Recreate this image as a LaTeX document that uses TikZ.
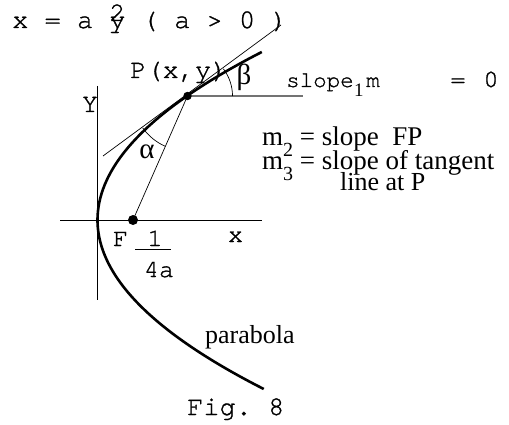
\documentclass[tikz,border=0pt]{standalone}
\usepackage{fontspec}
\setmainfont{Liberation Serif}
\newfontfamily\monofont[FakeBold=1]{texgyrecursor-regular.otf}
\usetikzlibrary{angles}
\begin{document}
\begin{tikzpicture}[x=1pt,y=-1pt,
  mono/.style={font=\monofont\fontsize{27}{27}\selectfont, inner sep=0pt},
  monosm/.style={font=\monofont\fontsize{25}{25}\selectfont, inner sep=0pt},
  monoxs/.style={font=\monofont\fontsize{22.5}{22.5}\selectfont, inner sep=0pt},
  serif/.style={font=\fontsize{26}{26}\selectfont, inner sep=0pt},
  serifm/.style={font=\fontsize{27}{27}\selectfont, inner sep=0pt},
  greek/.style={font=\fontsize{29}{29}\selectfont, inner sep=0pt},
  subsc/.style={font=\fontsize{19}{19}\selectfont, inner sep=0pt},
  axisline/.style={line width=0.9pt, black},
  curveline/.style={line width=2.6pt, black},
  thinline/.style={line width=0.7pt, black},
  horline/.style={line width=1.6pt, black!55},
  dotP/.style={fill=black}]
\fill[white] (0,0) rectangle (509,425);
\useasboundingbox (0,0) rectangle (509,425);
% coordinates
\coordinate (Ytop) at (97.5,86);
\coordinate (Ybot) at (97.5,300);
\coordinate (Xl) at (60,220);
\coordinate (Xr) at (262,220);
\coordinate (P) at (187.5,96);
\coordinate (F) at (133,220);
\coordinate (H) at (303,96);
\coordinate (TL) at (103,156);
\coordinate (TR) at (281,25);
\coordinate (fb1) at (135,249);
\coordinate (fb2) at (171,249);
% axes
\draw[axisline] (Ytop) -- (Ybot);
\draw[axisline] (Xl) -- (Xr);
% parabola
\draw[curveline] plot[domain=52:389, samples=90, smooth] ({97.5+(0.07629*(\x-220))^2}, \x);
% tangent, horizontal, focal line
\draw[thinline] (TL) -- (TR);
\draw[horline] (P) -- (H);
\draw[thinline] (F) -- (P);
% angles
\pic[draw, thinline, angle radius=45pt] {angle=H--P--TR};
\pic[draw, thinline, angle radius=55pt] {angle=TL--P--F};
% dots
\fill[dotP] (P) circle[radius=4.2pt];
\fill[dotP] (F) circle[radius=5pt];
% fraction bar
\draw[thinline] (fb1) -- (fb2);
% texts
\node[mono, anchor=base west] (eq) at (12,28) {x = a y ( a > 0 )};
\node[mono, anchor=base west] (sq) at (109,21) {2};
\node[mono, anchor=base west] (Plab) at (130,78) {P(x,y)};
\node[monoxs, anchor=base west] (slope) at (286,87) {slope};
\node[subsc, anchor=base west] (one) at (354,97) {1};
\node[monoxs, anchor=base west] (mm) at (366,87) {m};
\node[monosm, anchor=base] (eqs) at (458,87) {=};
\node[monosm, anchor=base] (zero) at (491,87) {0};
\node[mono, anchor=base] (Ylab) at (90,112) {Y};
\node[monosm, anchor=base] (xlab) at (235.5,242) {x};
\node[monosm, anchor=base] (Flab) at (120.5,246) {F};
\node[monosm, anchor=base] (num) at (155,246) {1};
\node[monosm, anchor=base] (den) at (159,277) {4a};
\node[mono, anchor=base west] (fig) at (187,415) {Fig.\ 8};
\node[serifm, anchor=base west] (m2) at (262,146) {m\raisebox{-11pt}{\fontsize{20}{20}\selectfont 2} = slope\ \ FP};
\node[serifm, anchor=base west] (m3) at (262,170) {m\raisebox{-11pt}{\fontsize{20}{20}\selectfont 3} = slope of tangent};
\node[serif, anchor=base west] (lat) at (340,190) {line at P};
\node[serif, anchor=base west] (para) at (205,343) {parabola};
\node[greek, anchor=center] (al) at (147,152) {α};
\node[greek, anchor=center] (be) at (244,77) {β};
\end{tikzpicture}
\end{document}
